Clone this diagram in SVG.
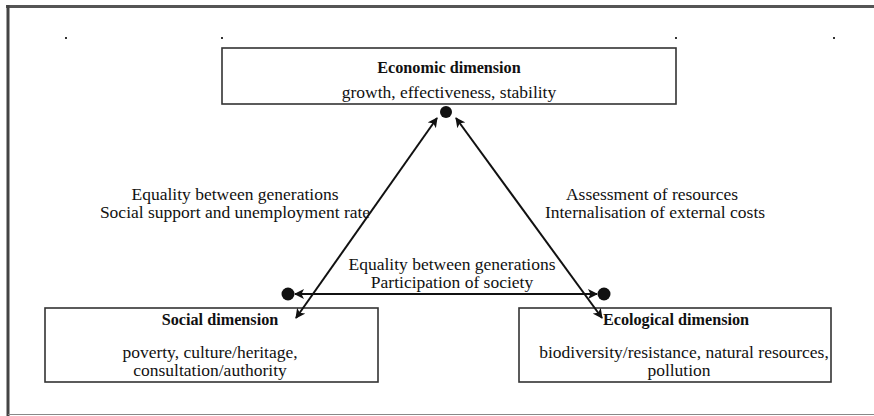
<svg xmlns="http://www.w3.org/2000/svg" width="874" height="416" viewBox="0 0 874 416">
<defs>
<style>
text{font-family:"Liberation Serif","Times New Roman",serif;font-size:17.5px;fill:#111;text-anchor:middle}
.b{font-weight:bold;font-size:16.2px}
.box{fill:#fff;stroke:#333;stroke-width:1.6}
.con{stroke:#111;stroke-width:2;fill:none;marker-start:url(#ah);marker-end:url(#ah)}
</style>
<marker id="ah" viewBox="0 0 10 10" refX="9" refY="5" markerWidth="5" markerHeight="5" orient="auto-start-reverse" markerUnits="strokeWidth">
<path d="M0,0 L10,5 L0,10 L2.5,5 z" fill="#111"/>
</marker>
</defs>
<rect width="874" height="416" fill="#fff"/>
<g id="frame">
<line x1="6" y1="6.5" x2="874" y2="6.5" stroke="#555" stroke-width="3"/>
<line x1="8" y1="5" x2="8" y2="416" stroke="#444" stroke-width="3"/>
<line x1="8" y1="414.5" x2="874" y2="414.5" stroke="#888" stroke-width="1.2"/>
<g fill="#333"><rect x="65" y="37" width="2" height="2"/><rect x="221" y="37" width="2" height="2"/><rect x="675" y="37" width="2" height="2"/><rect x="833" y="37" width="2" height="2"/></g>
</g>
<g id="economic">
<rect class="box" x="222" y="48" width="454" height="56"/>
<text class="b" x="449" y="73">Economic dimension</text>
<text x="449" y="98">growth, effectiveness, stability</text>
</g>
<g id="social">
<rect class="box" x="45" y="308" width="333" height="74"/>
<text class="b" x="220" y="325">Social dimension</text>
<text x="210" y="358">poverty, culture/heritage,</text>
<text x="210" y="376">consultation/authority</text>
</g>
<g id="ecological">
<rect class="box" x="519" y="308" width="312" height="74"/>
<text class="b" x="676" y="325">Ecological dimension</text>
<text x="684" y="358">biodiversity/resistance, natural resources,</text>
<text x="679" y="376">pollution</text>
</g>
<g id="connectors">
<circle cx="446" cy="112" r="6" fill="#111"/>
<circle cx="288" cy="294" r="6.5" fill="#111"/>
<circle cx="604" cy="294" r="6.5" fill="#111"/>
<line class="con" x1="437" y1="118" x2="296" y2="318"/>
<line class="con" x1="456" y1="118" x2="602" y2="318"/>
<line class="con" x1="295" y1="294" x2="597" y2="294"/>
</g>
<g id="labels">
<text x="235" y="200">Equality between generations</text>
<text x="235" y="218">Social support and unemployment rate</text>
<text x="652" y="200">Assessment of resources</text>
<text x="655" y="218">Internalisation of external costs</text>
<text x="452" y="270">Equality between generations</text>
<text x="452" y="288">Participation of society</text>
</g>
</svg>
